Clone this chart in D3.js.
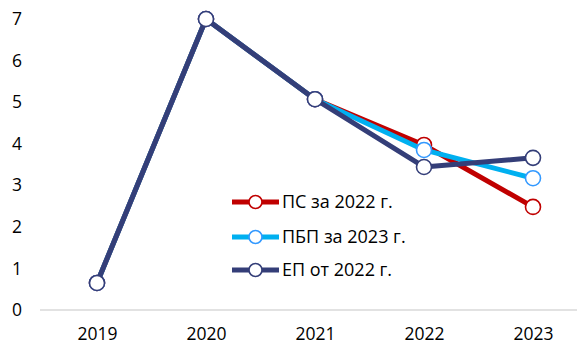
<!DOCTYPE html>
<html>
<head>
<meta charset="utf-8">
<script src="https://cdn.jsdelivr.net/npm/d3@7"></script>
<style>
  html, body { margin: 0; padding: 0; background: #fff; }
  svg { display: block; font-family: "Open Sans", "Liberation Sans", sans-serif; }
</style>
</head>
<body>
<svg id="chart" width="577" height="345"></svg>
<script>
// Years on the horizontal axis
const years = ["2019", "2020", "2021", "2022", "2023"];
// Series values per year
const psValues  = [0.65, 7.0, 5.07, 3.97, 2.48];
const pbpValues = [0.65, 7.0, 5.07, 3.85, 3.17];
const epValues  = [0.65, 7.0, 5.07, 3.44, 3.66];
// Series names shown in the legend
const seriesNames = ["ПС за 2022 г.", "ПБП за 2023 г.", "ЕП от 2022 г."];
// Y axis ticks
const yTicks = [0, 1, 2, 3, 4, 5, 6, 7];

const series = [
  { name: seriesNames[0], values: psValues,  line: "#C00000", marker: "#C00000" },
  { name: seriesNames[1], values: pbpValues, line: "#00B0F0", marker: "#3399FF" },
  { name: seriesNames[2], values: epValues,  line: "#343E78", marker: "#343E78" }
];

const AXIS_FONT = 17.5;
const LEGEND_FONT = 18;
const svg = d3.select("#chart");

const x = d3.scalePoint().domain(years).range([97, 533]);
const y = d3.scaleLinear().domain([0, 7]).range([310, 19]);

// Baseline
svg.append("line")
  .attr("x1", 40).attr("x2", 577)
  .attr("y1", y(0)).attr("y2", y(0))
  .attr("stroke", "#d9d9d9").attr("stroke-width", 1.3);

// Y axis labels
const yAxis = d3.axisLeft(y).tickValues(yTicks).tickFormat(d3.format("d")).tickSize(0).tickPadding(0);
const gy = svg.append("g").attr("transform", "translate(22,0)").call(yAxis);
gy.select(".domain").remove();
gy.selectAll("text")
  .attr("font-size", AXIS_FONT).attr("fill", "#000")
  .attr("font-family", "'Open Sans', sans-serif");

// X axis labels
const xAxis = d3.axisBottom(x).tickSize(0).tickPadding(0);
const gx = svg.append("g").call(xAxis);
gx.select(".domain").remove();
gx.selectAll("text")
  .attr("y", 340).attr("dy", 0)
  .attr("font-size", AXIS_FONT).attr("fill", "#000")
  .attr("font-family", "'Open Sans', sans-serif");

const line = d3.line()
  .x((d, i) => x(years[i]))
  .y(d => y(d));

series.forEach(s => {
  const g = svg.append("g");
  g.append("path")
    .datum(s.values)
    .attr("d", line)
    .attr("fill", "none")
    .attr("stroke", s.line)
    .attr("stroke-width", 5)
    .attr("stroke-linejoin", "round");
  g.selectAll("circle")
    .data(s.values)
    .join("circle")
    .attr("cx", (d, i) => x(years[i]))
    .attr("cy", d => y(d))
    .attr("r", 7.5)
    .attr("fill", "#fff")
    .attr("stroke", s.marker)
    .attr("stroke-width", 1.6);
});

// Legend
const legendY = [202, 237, 270];
const legend = svg.append("g");
series.forEach((s, i) => {
  const row = legend.append("g").attr("transform", `translate(0,${legendY[i]})`);
  row.append("line")
    .attr("x1", 232).attr("x2", 279)
    .attr("y1", 0).attr("y2", 0)
    .attr("stroke", s.line).attr("stroke-width", 5);
  row.append("circle")
    .attr("cx", 255.5).attr("cy", 0).attr("r", 6.5)
    .attr("fill", "#fff").attr("stroke", s.marker).attr("stroke-width", 1.6);
  row.append("text")
    .attr("x", 282).attr("y", 0).attr("dy", "0.36em")
    .attr("font-size", LEGEND_FONT).attr("fill", "#000")
    .text(s.name);
});
</script>
</body>
</html>
